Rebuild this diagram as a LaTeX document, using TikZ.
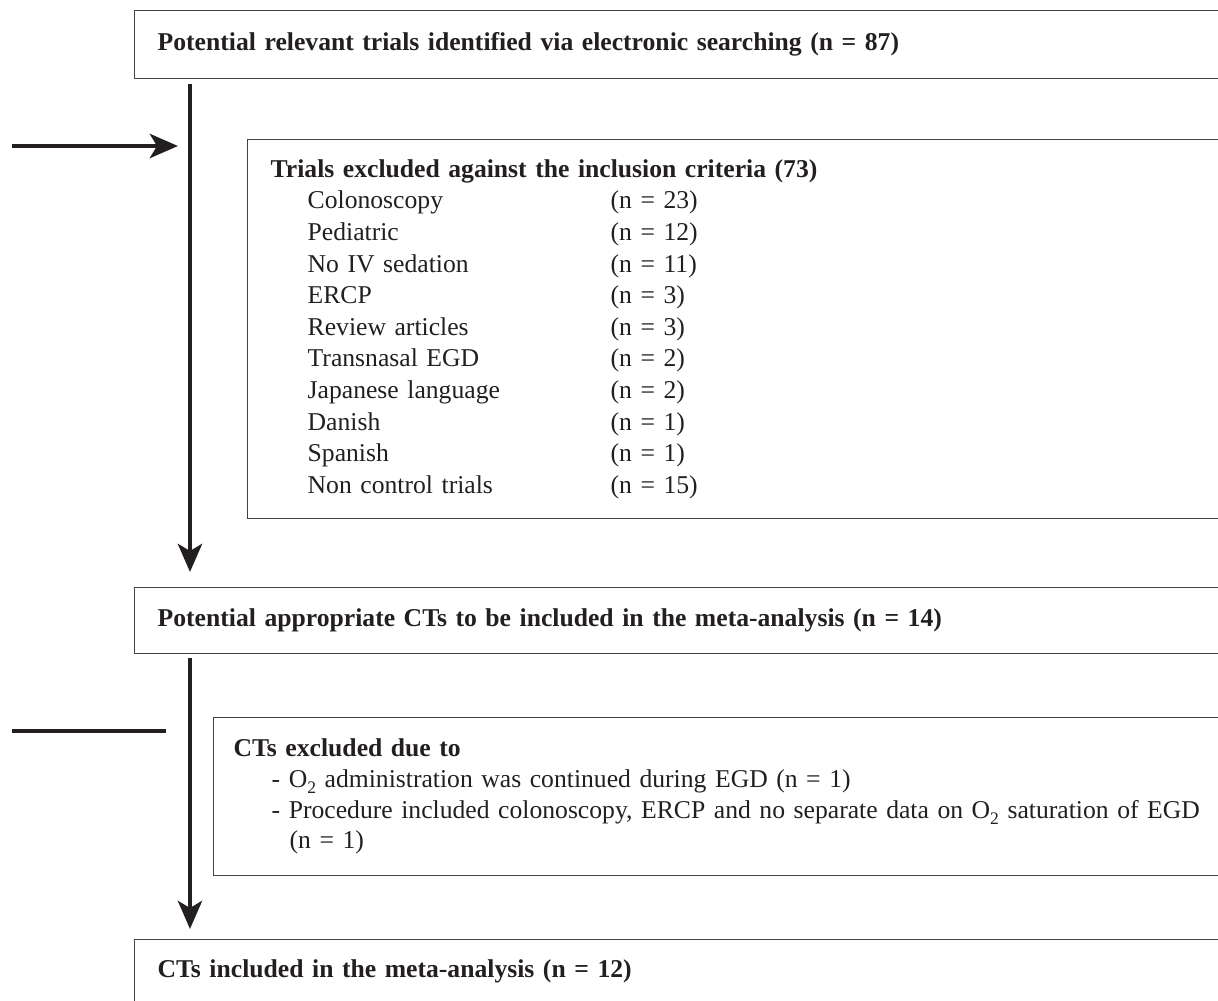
\documentclass[tikz,border=0pt]{standalone}
\usepackage{fontspec}
\setmainfont{Liberation Serif}
\usepackage{tikz}
\usetikzlibrary{arrows.meta,positioning}

\definecolor{ink}{HTML}{231F20}
\newcommand{\exclrow}[2]{\hspace*{0.74cm}\makebox[6.06cm][l]{#1}(n = #2)}
\newcommand{\oxy}{O\raisebox{-0.55ex}{\fontsize{10}{10}\selectfont 2}}

\tikzset{
  stage/.style={draw=ink!85, line width=0.8pt, rectangle, anchor=north west,
    inner xsep=0.46cm, inner ysep=0pt, align=left, text=ink,
    font=\fontsize{14.6}{18}\selectfont\bfseries},
  listbox/.style={stage, font=\fontsize{14.6}{18}\selectfont},
  flow/.style={draw=ink, line width=2.8pt,
    -{Stealth[length=0.56cm, width=0.48cm, inset=0.14cm]}},
  bar/.style={draw=ink, line width=2.8pt},
}

\begin{document}
\begin{tikzpicture}[x=0.02cm, y=-0.02cm]
    \useasboundingbox (0,0) rectangle (1218,1001);
    \clip (0,0) rectangle (1218,1001);

    % stages
    \node[stage, minimum width=22.12cm, minimum height=1.36cm, text width=21.2cm]
      (found) at (134,10) {Potential relevant trials identified via electronic searching (n = 87)};
    \node[listbox, minimum width=19.86cm, minimum height=7.58cm, text width=18.94cm]
      (excl) at (247,139) {\textbf{Trials excluded against the inclusion criteria (73)}\\
        \exclrow{Colonoscopy}{23}\\
        \exclrow{Pediatric}{12}\\
        \exclrow{No IV sedation}{11}\\
        \exclrow{ERCP}{3}\\
        \exclrow{Review articles}{3}\\
        \exclrow{Transnasal EGD}{2}\\
        \exclrow{Japanese language}{2}\\
        \exclrow{Danish}{1}\\
        \exclrow{Spanish}{1}\\
        \exclrow{Non control trials}{15}};
    \node[stage, minimum width=22.12cm, minimum height=1.32cm, text width=21.2cm]
      (pot) at (134,587) {Potential appropriate CTs to be included in the meta-analysis (n = 14)};
    \node[listbox, minimum width=21.5cm, minimum height=3.16cm, inner xsep=0.38cm,
      text width=20.7cm, font=\fontsize{14.6}{15.5}\selectfont]
      (ctex) at (213,717) {\textbf{CTs excluded due to}\\[2pt]
        \hspace*{0.76cm}- \oxy{} administration was continued during EGD (n = 1)\\[2pt]
        \hspace*{0.76cm}- Procedure included colonoscopy, ERCP and no separate data on \oxy{} saturation of EGD\\[2pt]
        \hspace*{1.12cm}(n = 1)};
    \node[stage, minimum width=22.12cm, text width=21.2cm, text height=0.76cm, text depth=1.5cm]
      (incl) at (134,939) {CTs included in the meta-analysis (n = 12)};

    % side inputs
    \coordinate (in1) at (12,146);
    \coordinate (hit1) at (178,146);
    \coordinate (in2) at (12,731);
    \coordinate (hit2) at (166,731);

    \draw[flow] ([xshift=1.12cm, yshift=-0.1cm]found.south west) -- ([xshift=1.12cm, yshift=0.3cm]pot.north west);
    \draw[flow] (in1) -- (hit1);
    \draw[flow] ([xshift=1.12cm, yshift=-0.08cm]pot.south west) -- ([xshift=1.12cm, yshift=0.2cm]incl.north west);
    \draw[bar] (in2) -- (hit2);
\end{tikzpicture}
\end{document}
